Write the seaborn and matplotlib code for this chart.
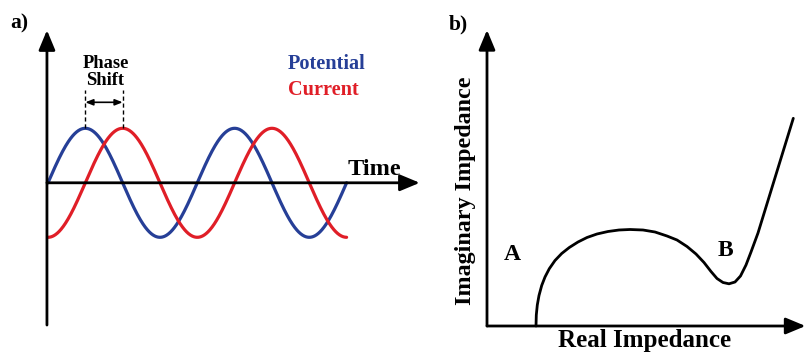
import numpy as np
import pandas as pd
import matplotlib
matplotlib.use("Agg")
import matplotlib.pyplot as plt
import seaborn as sns

# ---------------- data ----------------
# Panel a: sinusoidal potential and current (time in periods)
n_cycles = 2
amplitude = 1.0
phase_shift = 0.25          # current lags potential by a quarter period
series_names = ["Potential", "Current"]
series_colors = ["#263f97", "#e01e27"]

# Panel b: Nyquist curve (arbitrary units)
z_real = [4.90, 4.93, 5.03, 5.20, 5.47, 5.80, 6.23, 6.80, 7.47, 8.23,
          9.10, 10.00, 11.00, 12.10, 13.20, 14.30, 15.60, 16.80, 18.00,
          19.00, 20.00, 20.90, 21.70, 22.40, 23.00, 23.60, 24.20, 24.80,
          25.35, 25.90, 26.40, 27.10, 30.63]
z_imag = [0.00, 1.10, 2.10, 3.05, 4.05, 4.90, 5.73, 6.55, 7.25, 7.85,
          8.40, 8.85, 9.20, 9.45, 9.60, 9.65, 9.60, 9.40, 9.00,
          8.60, 7.95, 7.20, 6.35, 5.45, 4.75, 4.35, 4.22, 4.40,
          5.00, 6.10, 7.40, 9.30, 20.77]
point_labels = ["A", "B"]

# ---------------- style ----------------
sns.set_theme(style="white")
plt.rcParams["font.family"] = ["Liberation Serif", "DejaVu Serif"]
plt.rcParams["font.weight"] = "bold"
plt.rcParams["text.color"] = "black"

fig = plt.figure(figsize=(8.06, 3.52), dpi=100)
ax1 = fig.add_axes([0, 0, 420 / 806, 1])
ax2 = fig.add_axes([420 / 806, 0, 386 / 806, 1])
for ax in (ax1, ax2):
    ax.axis("off")

# ---------------- panel a ----------------
t = np.linspace(0, n_cycles, 800)
potential = amplitude * np.sin(2 * np.pi * t)
current = amplitude * np.sin(2 * np.pi * (t - phase_shift))
df_a = pd.DataFrame({
    "t": np.concatenate([t, t]),
    "v": np.concatenate([potential, current]),
    "signal": [series_names[0]] * len(t) + [series_names[1]] * len(t),
})
sns.lineplot(data=df_a, x="t", y="v", hue="signal", hue_order=series_names,
             palette=dict(zip(series_names, series_colors)), lw=2.3,
             legend=False, estimator=None, sort=False, ax=ax1)
ax1.set_xlim(-48 / 149.3, (420 - 48) / 149.3)
ax1.set_ylim((182.8 - 352) / 54.5, 182.8 / 54.5)

axis_arrow = dict(arrowstyle="-|>,head_length=0.6,head_width=0.25",
                  mutation_scale=20, lw=2.0, color="black",
                  shrinkA=0, shrinkB=0)
x0 = -0.007
ax1.annotate("", xy=(x0, 2.80), xytext=(x0, -2.61),
             arrowprops=axis_arrow, annotation_clip=False)
ax1.annotate("", xy=(2.49, 0), xytext=(x0, 0),
             arrowprops=axis_arrow, annotation_clip=False)

peak_pot = 0.25
peak_cur = 0.25 + phase_shift
for px in (peak_pot, peak_cur):
    ax1.plot([px, px], [amplitude, 1.70], color="black", lw=1.0,
             ls=(0, (3, 2)))
ax1.annotate("", xy=(peak_pot, 1.477), xytext=(peak_cur, 1.477),
             arrowprops=dict(arrowstyle="<|-|>,head_length=0.45,head_width=0.18",
                             mutation_scale=10, lw=1.2, color="black",
                             shrinkA=0, shrinkB=0))
ax1.text((peak_pot + peak_cur) / 2 + 0.01, 2.03, "Phase\nShift", ha="center",
         va="center", fontsize=13.3, fontweight="bold", linespacing=1.0)
ax1.text(1.6075, 2.088, series_names[0], color=series_colors[0],
         ha="left", va="baseline", fontsize=14.6, fontweight="bold")
ax1.text(1.6075, 1.611, series_names[1], color=series_colors[1],
         ha="left", va="baseline", fontsize=14.6, fontweight="bold")
ax1.text(2.009, 0.143, "Time", ha="left", va="baseline",
         fontsize=17.5, fontweight="bold")
ax1.text(-0.194, 2.93, "a)", ha="center", va="center",
         fontsize=15.5, fontweight="bold")

# ---------------- panel b ----------------
df_b = pd.DataFrame({"re": z_real, "im": z_imag})
sns.lineplot(data=df_b, x="re", y="im", color="black", lw=2.0,
             estimator=None, sort=False, ax=ax2)
ax2.set_xlim(-6.7, 31.9)
ax2.set_ylim(-2.6, 32.6)
ax2.annotate("", xy=(0, 29.6), xytext=(0, 0),
             arrowprops=axis_arrow, annotation_clip=False)
ax2.annotate("", xy=(31.85, 0), xytext=(0, 0),
             arrowprops=axis_arrow, annotation_clip=False)
ax2.text(-2.9, 30.2, "b)", ha="center", va="center",
         fontsize=15.5, fontweight="bold")
ax2.text(-2.2, 13.5, "Imaginary Impedance", rotation=90, ha="center",
         va="center", fontsize=17.3, fontweight="bold")
ax2.text(15.8, -2.05, "Real Impedance", ha="center", va="baseline",
         fontsize=18, fontweight="bold")
ax2.text(2.5, 7.2, point_labels[0], ha="center", va="center",
         fontsize=17, fontweight="bold")
ax2.text(23.8, 7.6, point_labels[1], ha="center", va="center",
         fontsize=17, fontweight="bold")

fig.savefig("out.png", dpi=100)
